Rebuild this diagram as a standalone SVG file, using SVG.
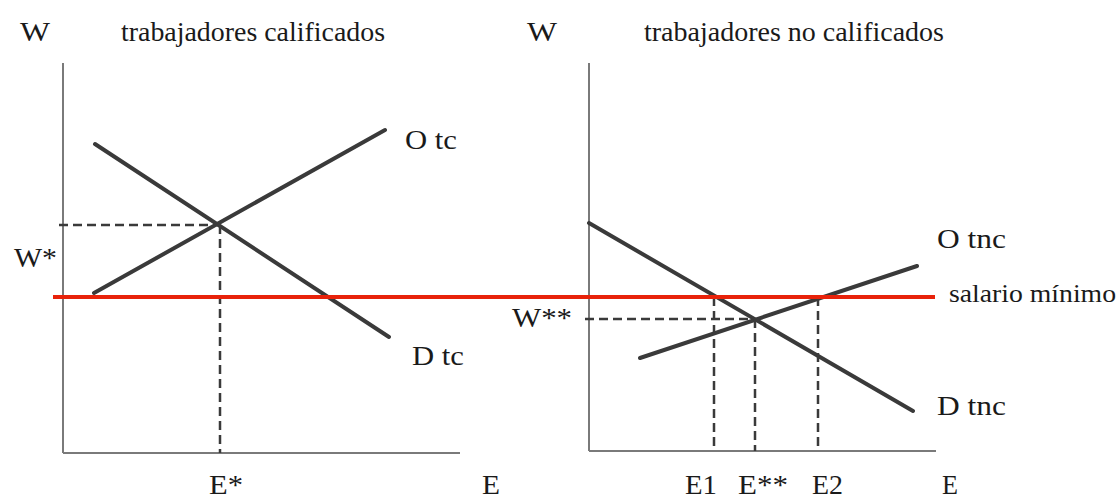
<svg xmlns="http://www.w3.org/2000/svg" width="1119" height="501" viewBox="0 0 1119 501">
<style>
.axis{stroke:#7a7a7a;stroke-width:2;fill:none}
.curve{stroke:#3a3a3a;stroke-width:4;fill:none;stroke-linecap:round}
.guide{stroke:#3a3a3a;stroke-width:2.5;fill:none;stroke-dasharray:9 5}
.minwage{stroke:#e8220a;stroke-width:4;fill:none}
text{font-family:"Liberation Serif","Times New Roman",serif;font-size:28px;fill:#1a1a1a}
.small{font-size:25px}
</style>
<rect width="1119" height="501" fill="#ffffff"/>
<g id="panel-left">
  <g id="axes-left">
    <line class="axis" x1="63" y1="63" x2="63" y2="453"/>
    <line class="axis" x1="63" y1="453" x2="460" y2="453"/>
  </g>
  <g id="supply-tc"><line class="curve" x1="94" y1="293" x2="385" y2="130"/></g>
  <g id="demand-tc"><line class="curve" x1="95" y1="144" x2="389" y2="337"/></g>
  <g id="labels-left">
    <text x="20" y="41" textLength="30" lengthAdjust="spacingAndGlyphs">W</text>
    <text x="121" y="41" textLength="264" lengthAdjust="spacingAndGlyphs">trabajadores calificados</text>
    <text x="405" y="149" textLength="52" lengthAdjust="spacingAndGlyphs">O tc</text>
    <text x="14" y="267" textLength="43" lengthAdjust="spacingAndGlyphs">W*</text>
    <text x="412" y="365" textLength="52" lengthAdjust="spacingAndGlyphs">D tc</text>
    <text x="209" y="494" textLength="34" lengthAdjust="spacingAndGlyphs">E*</text>
    <text x="482" y="494" textLength="18" lengthAdjust="spacingAndGlyphs">E</text>
  </g>
</g>
<g id="panel-right">
  <g id="axes-right">
    <line class="axis" x1="589" y1="63" x2="589" y2="451"/>
    <line class="axis" x1="589" y1="451" x2="936" y2="451"/>
  </g>
  <g id="demand-tnc"><line class="curve" x1="589" y1="223" x2="913" y2="411"/></g>
  <g id="supply-tnc"><line class="curve" x1="640" y1="358" x2="917" y2="266"/></g>
  <g id="labels-right">
    <text x="527" y="41" textLength="30" lengthAdjust="spacingAndGlyphs">W</text>
    <text x="644" y="41" textLength="300" lengthAdjust="spacingAndGlyphs">trabajadores no calificados</text>
    <text x="937" y="248" textLength="69" lengthAdjust="spacingAndGlyphs">O tnc</text>
    <text class="small" x="949" y="302" textLength="167" lengthAdjust="spacingAndGlyphs">salario mínimo</text>
    <text x="512" y="327" textLength="60" lengthAdjust="spacingAndGlyphs">W**</text>
    <text x="937" y="415" textLength="69" lengthAdjust="spacingAndGlyphs">D tnc</text>
    <text x="685" y="494" textLength="32" lengthAdjust="spacingAndGlyphs">E1</text>
    <text x="738" y="494" textLength="50" lengthAdjust="spacingAndGlyphs">E**</text>
    <text x="812" y="494" textLength="31" lengthAdjust="spacingAndGlyphs">E2</text>
    <text x="942" y="494" textLength="16" lengthAdjust="spacingAndGlyphs">E</text>
  </g>
</g>
<g id="connectors">
  <line class="guide" x1="59" y1="225" x2="219" y2="225"/>
  <line class="guide" x1="220" y1="225" x2="220" y2="453"/>
  <line class="guide" x1="585" y1="319" x2="755" y2="319"/>
  <line class="guide" x1="714" y1="297" x2="714" y2="451"/>
  <line class="guide" x1="755" y1="319" x2="755" y2="451"/>
  <line class="guide" x1="818" y1="297" x2="818" y2="451"/>
  <line id="salario-minimo" class="minwage" x1="53" y1="297" x2="935" y2="297"/>
</g>
</svg>
